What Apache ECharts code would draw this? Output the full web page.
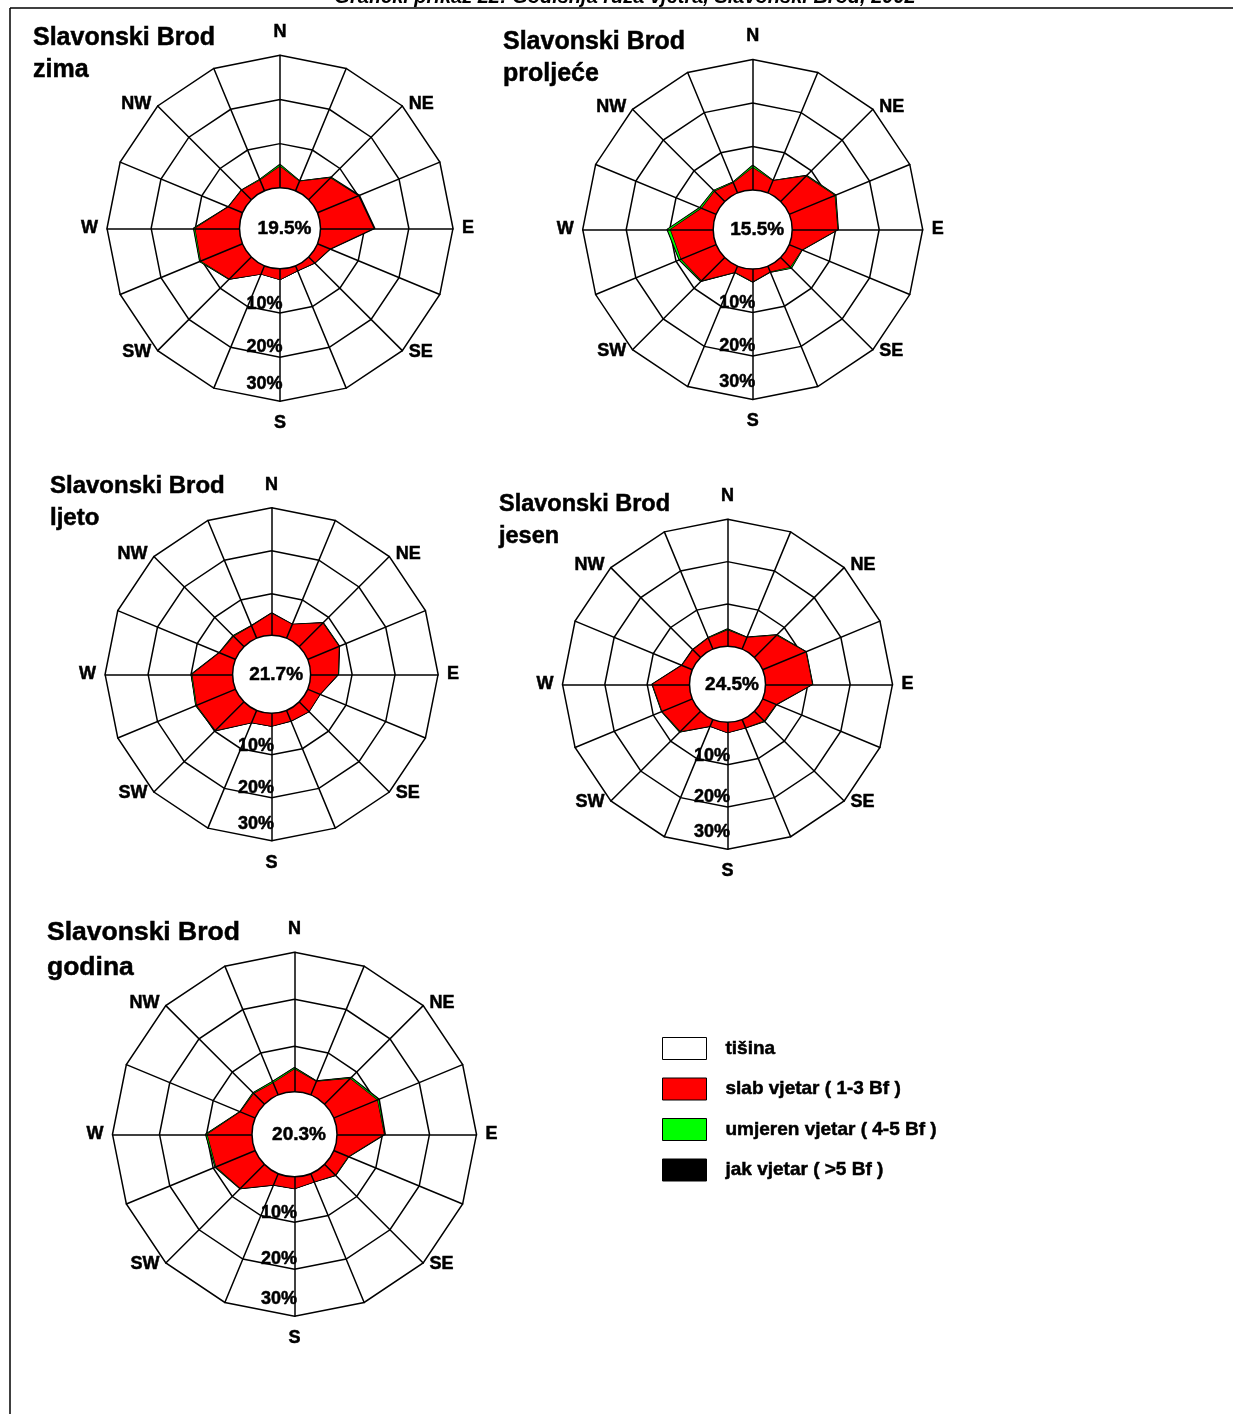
<!DOCTYPE html>
<html><head><meta charset="utf-8">
<script src="https://cdn.jsdelivr.net/npm/echarts@6/dist/echarts.min.js"></script>
<style>html,body{margin:0;padding:0;background:#fff}#c{width:1233px;height:1414px}</style>
</head><body><div id="c"></div><script>
// ---- data ----
const directions = ['N','NNE','NE','ENE','E','ESE','SE','SSE','S','SSW','SW','WSW','W','WNW','NW','NNW'];
const directionLabels = ['N','','NE','','E','','SE','','S','','SW','','W','','NW',''];
const seasons = ['zima','proljeće','ljeto','jesen','godina'];
const calm = [19.5, 15.5, 21.7, 24.5, 20.3];
const ringTicks = [10, 20, 30];
const ringLabels = ['10%','20%','30%'];
const legendNames = ['tišina','slab vjetar ( 1-3 Bf )','umjeren vjetar ( 4-5 Bf )','jak vjetar ( >5 Bf )'];
const title = 'Grafički prikaz 22: Godišnja ruža vjetra, Slavonski Brod, 2002';

// weak (1-3 Bf), moderate (4-5 Bf), strong (>5 Bf), compass order N..NNW, %
const weakZima     = [4.8,2.3,6.9,10.0,12.0,3.0,1.9,1.2,2.4,2.0,7.0,10.2,10.0,3.4,3.0,2.6];
const moderateZima = [0.4,0.1,0.2,0.05,0.05,0.05,0.05,0.0,0.0,0.0,0.1,0.2,0.3,0.1,0.1,0.2];
const strongZima   = [0.1,0.0,0.1,0.25,0.25,0.1,0.0,0.0,0.0,0.0,0.0,0.1,0.1,0.0,0.0,0.0];

const weakProljece     = [5.1,3.0,8.2,11.3,10.4,3.1,3.1,1.4,2.9,1.5,7.5,8.7,9.8,3.6,3.3,2.5];
const moderateProljece = [0.5,0.1,0.2,0.2,0.1,0.1,0.3,0.1,0.1,0.1,0.2,0.4,0.7,0.4,0.3,0.2];
const strongProljece   = [0.1,0.0,0.1,0.1,0.1,0.0,0.1,0.0,0.0,0.0,0.1,0.1,0.1,0.1,0.0,0.0];

const weakLjeto     = [5.4,3.8,8.1,8.2,6.7,3.4,3.5,3.0,3.3,3.4,9.7,10.1,9.7,4.3,3.7,3.4];
const moderateLjeto = [0.1,0.0,0.1,0.1,0.1,0.0,0.0,0.0,0.0,0.0,0.1,0.2,0.2,0.1,0.2,0.1];
const strongLjeto   = [0.05,0.05,0.05,0.05,0.05,0.05,0.05,0.05,0.05,0.05,0.05,0.05,0.05,0.05,0.05,0.05];

const weakJesen     = [3.8,2.9,7.3,11.0,11.0,3.4,3.2,2.1,2.4,1.7,6.7,7.7,8.7,2.6,2.5,2.8];
const moderateJesen = [0.2,0.1,0.2,0.1,0.1,0.1,0.2,0.0,0.0,0.0,0.2,0.1,0.1,0.1,0.1,0.1];
const strongJesen   = [0.1,0.05,0.05,0.05,0.05,0.05,0.05,0.05,0.05,0.05,0.05,0.05,0.05,0.05,0.05,0.05];

const weakGodina     = [5.1,3.4,8.0,10.3,10.3,3.6,3.5,2.2,2.8,2.9,7.5,9.3,9.8,3.7,3.5,3.1];
const moderateGodina = [0.3,0.1,0.3,0.3,0.1,0.1,0.1,0.0,0.0,0.0,0.1,0.2,0.3,0.1,0.2,0.3];
const strongGodina   = [0.1,0.05,0.1,0.2,0.2,0.05,0.05,0.05,0.05,0.05,0.05,0.05,0.1,0.05,0.05,0.05];

const weakAll = [weakZima, weakProljece, weakLjeto, weakJesen, weakGodina];
const moderateAll = [moderateZima, moderateProljece, moderateLjeto, moderateJesen, moderateGodina];
const strongAll = [strongZima, strongProljece, strongLjeto, strongJesen, strongGodina];

// ---- layout ----
const layout = [
  {cx:280,   cy:228.3,  r0:40.5, r:173,   calmR:40.5, tx:33,  ty:22,    fs:25,   lh:32},
  {cx:752.7, cy:229.5,  r0:39.5, r:170,   calmR:39.5, tx:503, ty:26,    fs:25,   lh:32},
  {cx:271.6, cy:674.3,  r0:37.5, r:166.5, calmR:39,   tx:50,  ty:470,   fs:24,   lh:32},
  {cx:727.5, cy:684.3,  r0:38,   r:165,   calmR:38,   tx:499, ty:488.5, fs:23.5, lh:32},
  {cx:294.5, cy:1134.3, r0:41,   r:182,   calmR:42.5, tx:47,  ty:915.5, fs:26.5, lh:35}
];
const FF = '"Liberation Sans", Arial, Helvetica, sans-serif';
const ringLabelOffsets = [9, 10, 17];
const TS = 0.5; // slight text stroke to mimic heavy bold

// ECharts radar runs counter-clockwise; map to compass (clockwise) order
const ccw = directions.map((d, k) => (16 - k) % 16);
function toRadar(arr) { return ccw.map(i => arr[i]); }

function nameFor(label) {
  if (label === 'N') return '{n|N}';
  if (label === 'S') return '{s|S}';
  if (label === 'NE' || label === 'NW') return '{u|' + label + '}';
  if (label === 'SE' || label === 'SW') return '{d|' + label + '}';
  return label;
}
const tokenFont = {fontSize:18, fontWeight:'bold', fontFamily:FF, color:'#000', textBorderColor:'#000', textBorderWidth:TS};

const radars = [], series = [], graphic = [];
layout.forEach((L, i) => {
  const ind = ccw.map(c => ({name: nameFor(directionLabels[c]), min:0, max:30}));
  const indBlank = ccw.map(() => ({name:'', min:0, max:30}));
  radars.push({
    center:[L.cx, L.cy], radius:[L.r0, L.r], startAngle:90, splitNumber:3, shape:'polygon', z:0,
    indicator: ind, nameGap: 9,
    axisName: Object.assign({}, tokenFont, {rich:{
      n: Object.assign({padding:[0,0,5,0]}, tokenFont),
      s: Object.assign({padding:[4,0,0,0]}, tokenFont),
      u: Object.assign({padding:[8,0,0,0]}, tokenFont),
      d: Object.assign({padding:[0,0,10,0]}, tokenFont)
    }}),
    splitLine:{lineStyle:{color:'#000', width:1.5}},
    splitArea:{show:false}, axisLine:{show:false}, axisTick:{show:false}, axisLabel:{show:false}
  });
  radars.push({
    center:[L.cx, L.cy], radius:[L.r0, L.r], startAngle:90, splitNumber:3, shape:'polygon', z:5,
    indicator: indBlank, axisName:{show:false},
    splitLine:{show:false}, splitArea:{show:false}, axisTick:{show:false}, axisLabel:{show:false},
    axisLine:{lineStyle:{color:'#000', width:1.5}}
  });
  const w = weakAll[i], m = moderateAll[i], s = strongAll[i];
  const wm = w.map((v, k) => v + m[k]);
  const tot = wm.map((v, k) => v + s[k]);
  const zeros = w.map(() => 0);
  const ls = {color:'#000', width:1.3};
  series.push({
    type:'radar', radarIndex: 2*i, symbol:'none', z:2, silent:true,
    emphasis:{disabled:true},
    data:[
      {name:legendNames[0], value:toRadar(zeros), itemStyle:{color:'#ffffff'}, lineStyle:ls, areaStyle:{color:'#ffffff', opacity:1}},
      {name:legendNames[3], value:toRadar(tot), itemStyle:{color:'#000000'}, lineStyle:ls, areaStyle:{color:'#000000', opacity:1}},
      {name:legendNames[2], value:toRadar(wm), itemStyle:{color:'#00ff00'}, lineStyle:ls, areaStyle:{color:'#00ff00', opacity:1}},
      {name:legendNames[1], value:toRadar(w), itemStyle:{color:'#ff0000'}, lineStyle:ls, areaStyle:{color:'#ff0000', opacity:1}}
    ]
  });
  // calm circle + value
  graphic.push({type:'circle', z:20, silent:true, shape:{cx:L.cx, cy:L.cy, r:Math.max(L.calmR, L.r0)},
    style:{fill:'#fff', stroke:'#000', lineWidth:1.5}});
  graphic.push({type:'text', z:21, silent:true, x:L.cx + 4.5, y:L.cy,
    style:{text: calm[i].toFixed(1) + '%', font:'bold 19px ' + FF, fill:'#000', stroke:'#000', lineWidth:TS, align:'center', verticalAlign:'middle'}});
  // ring labels along S axis
  const spacing = (L.r - L.r0) / 3;
  ringTicks.forEach((t, k) => {
    graphic.push({type:'text', z:21, silent:true, x:L.cx + 2.5, y:L.cy + L.r0 + spacing * (t / 10) - ringLabelOffsets[k],
      style:{text: ringLabels[k], font:'bold 18px ' + FF, fill:'#000', stroke:'#000', lineWidth:TS, align:'right', verticalAlign:'middle'}});
  });
  // panel title
  graphic.push({type:'text', z:21, silent:true, x:L.tx, y:L.ty,
    style:{text:'Slavonski Brod\n' + seasons[i], font:'bold ' + L.fs + 'px ' + FF, lineHeight:L.lh, fill:'#000', stroke:'#000', lineWidth:TS, align:'left', verticalAlign:'top'}});
});

// frame and header
graphic.push({type:'line', z:30, shape:{x1:10, y1:8, x2:1233, y2:8}, style:{stroke:'#000', lineWidth:1.5}});
graphic.push({type:'line', z:30, shape:{x1:10, y1:8, x2:10, y2:1414}, style:{stroke:'#000', lineWidth:1.5}});
graphic.push({type:'text', z:30, x:625, y:7,
  style:{text:title, font:'italic bold 20px ' + FF, fill:'#000', align:'center', verticalAlign:'bottom'}});

const chart = echarts.init(document.getElementById('c'), null, {renderer:'canvas'});
chart.setOption({
  backgroundColor:'#fff',
  animation:false,
  radar: radars,
  series: series,
  graphic: graphic,
  legend:{
    orient:'vertical', left:662, top:1037, padding:0, itemWidth:44, itemHeight:22, itemGap:17.5, icon:'rect',
    selectedMode:false, data: legendNames,
    itemStyle:{borderColor:'#000', borderWidth:1},
    textStyle:{fontFamily:FF, fontWeight:'bold', fontSize:19, color:'#000', textBorderColor:'#000', textBorderWidth:TS, padding:[0,0,0,14]}
  }
});
</script></body></html>
